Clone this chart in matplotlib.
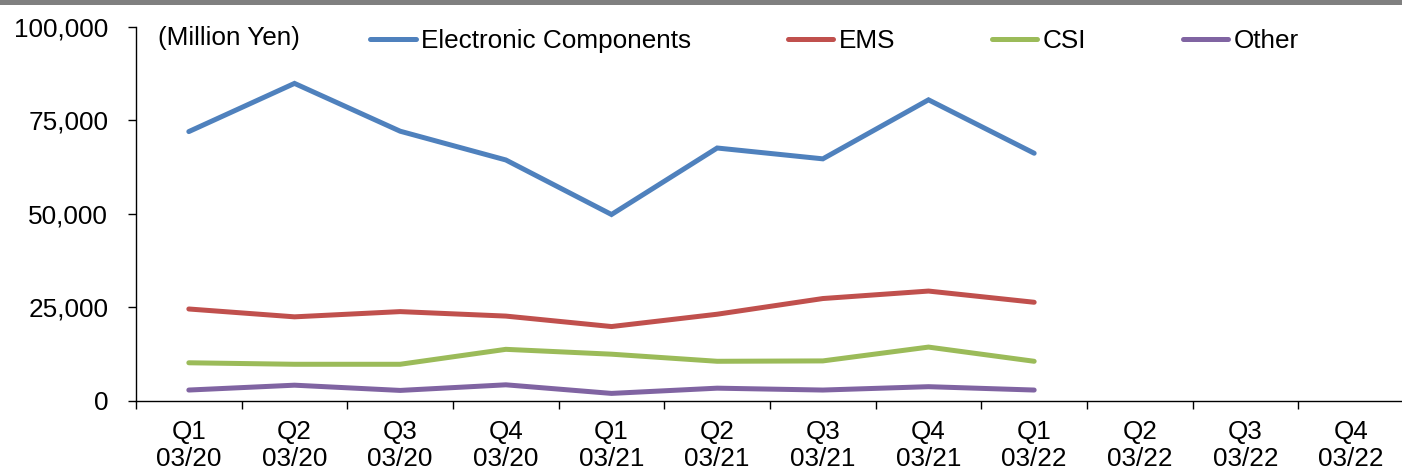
import matplotlib
matplotlib.use("Agg")
import matplotlib.pyplot as plt
import matplotlib.patches as patches
import numpy as np

plt.rcParams['font.family'] = ['Liberation Sans', 'DejaVu Sans']

quarters = ['Q1', 'Q2', 'Q3', 'Q4', 'Q1', 'Q2', 'Q3', 'Q4', 'Q1', 'Q2', 'Q3', 'Q4']
years = ['03/20'] * 4 + ['03/21'] * 4 + ['03/22'] * 4

electronic = [72000, 84900, 72100, 64400, 49800, 67600, 64700, 80500, 66200]
ems = [24500, 22400, 23800, 22600, 19800, 23100, 27300, 29300, 26300]
csi = [10100, 9700, 9700, 13700, 12400, 10500, 10600, 14300, 10500]
other = [2800, 4100, 2700, 4200, 1900, 3300, 2800, 3700, 2800]

series = [
    ('Electronic Components', electronic, '#4F81BD'),
    ('EMS', ems, '#C0504D'),
    ('CSI', csi, '#9BBB59'),
    ('Other', other, '#8064A2'),
]

FS = 18.8
W, H = 1402, 472
fig = plt.figure(figsize=(W / 100, H / 100), dpi=100)
# grey band along the top edge
fig.patches.append(patches.Rectangle((0, 1 - 5 / H), 1, 5 / H, transform=fig.transFigure,
                                     facecolor='#808080', edgecolor='none'))

ax = fig.add_axes([136 / W, (H - 400.5) / H, (1404 - 136) / W, (400.5 - 27) / H])

handles = []
for name, vals, color in series:
    x = np.arange(len(vals))
    ln, = ax.plot(x, vals, color=color, lw=3.6, solid_capstyle='round', solid_joinstyle='miter',
                  label=name)
    handles.append(ln)

ax.set_xlim(-0.5, len(quarters) - 0.5)
ax.set_ylim(0, 100000)
ax.set_yticks(np.arange(0, 100001, 25000))
ax.set_yticklabels([f'{v:,}' for v in range(0, 100001, 25000)])

ax.set_xticks(np.arange(len(quarters)))
ax.set_xticklabels([f'{q}\n{y}' for q, y in zip(quarters, years)], linespacing=1.15)
ax.set_xticks(np.arange(len(quarters) + 1) - 0.5, minor=True)
ax.tick_params(axis='x', which='major', length=0, pad=14, labelsize=FS)
ax.tick_params(axis='x', which='minor', length=6, width=1, direction='out')
ax.tick_params(axis='y', length=6, width=1, direction='out', pad=14, labelsize=FS)

for side in ['top', 'right']:
    ax.spines[side].set_visible(False)
for side in ['left', 'bottom']:
    ax.spines[side].set_linewidth(1)
    ax.spines[side].set_color('black')

fig.text(158 / W, 1 - 38 / H, '(Million Yen)', fontsize=FS, va='center', ha='left')

fig.legend(handles=handles, loc='center left', bbox_to_anchor=(370 / W, 1 - 41 / H),
           ncol=4, frameon=False, fontsize=FS, handlelength=1.75, handletextpad=0.2,
           columnspacing=3.7, borderpad=0, borderaxespad=0)

fig.savefig('out.png', dpi=100)
